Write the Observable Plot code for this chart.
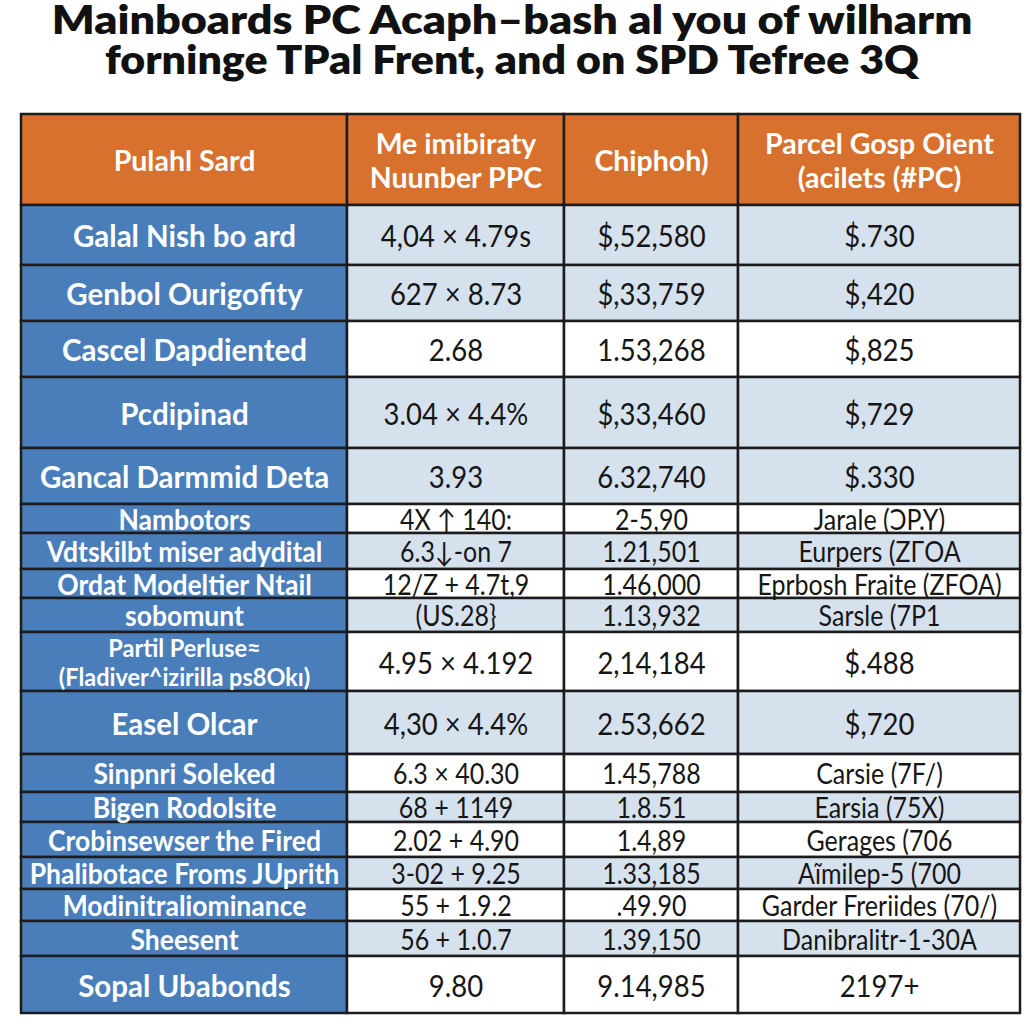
<!DOCTYPE html>
<html><head><meta charset="utf-8">
<script src="https://cdn.jsdelivr.net/npm/d3@7"></script>
<script src="https://cdn.jsdelivr.net/npm/@observablehq/plot@0.6"></script>
<style>
body{margin:0;background:#fff;width:1024px;overflow:hidden;}
#title{height:100px;box-sizing:border-box;padding-top:0px;font-family:Lato,"Open Sans",sans-serif;font-weight:800;font-size:39px;line-height:40px;text-align:center;color:#111;}
#title div{transform:scaleX(1.1);transform-origin:50% 50%;}
#title div.l1{transform:scaleX(1.15);margin-top:-1px;}
#chart svg{display:block;}
</style></head><body>
<div id="title"><div class="l1">Mainboards PC Acaph–bash al you of wilharm</div><div>forninge TPal Frent, and on SPD Tefree 3Q</div></div>
<div id="chart"></div>
<script>
// ---- data ----
const headers = ["Pulahl Sard", "Me imibiraty\nNuunber PPC", "Chiphoh)", "Parcel Gosp Oient\n(acilets (#PC)"];
const boards = ["Galal Nish bo ard", "Genbol Ourigofity", "Cascel Dapdiented", "Pcdipinad", "Gancal Darmmid Deta",
  "Nambotors", "Vdtskilbt miser adydital", "Ordat Modeltier Ntail", "sobomunt",
  "Partil Perluse\u2248\n(Fladiver^izirilla ps8Okı)", "Easel Olcar", "Sinpnri Soleked", "Bigen Rodolsite",
  "Crobinsewser the Fired", "Phalibotace Froms JUprith", "Modinitraliominance", "Sheesent", "Sopal Ubabonds"];
const ratings = ["4,04 × 4.79s", "627 × 8.73", "2.68", "3.04 × 4.4%", "3.93", "4X ↑ 140:", "6.3↓-on 7", "12/Z + 4.7t,9",
  "(US.28}", "4.95 × 4.192", "4,30 × 4.4%", "6.3 × 40.30", "68 + 1149", "2.02 + 4.90", "3-02 + 9.25", "55 + 1.9.2", "56 + 1.0.7", "9.80"];
const prices = ["$,52,580", "$,33,759", "1.53,268", "$,33,460", "6.32,740", "2-5,90", "1.21,501", "1.46,000", "1.13,932",
  "2,14,184", "2.53,662", "1.45,788", "1.8.51", "1.4,89", "1.33,185", ".49.90", "1.39,150", "9.14,985"];
const parcels = ["$.730", "$,420", "$,825", "$,729", "$.330", "Jarale (ƆP.Y)", "Eurpers (ZΓOA", "Eprbosh Fraite (ZFOA)", "Sarsle (7P1",
  "$.488", "$,720", "Carsie (7F/)", "Earsia (75X)", "Gerages (706", "Aĩmilep-5 (700", "Garder Freriides (70/)", "Danibralitr-1-30A", "2197+"];

// ---- layout ----
const colWidths = [326, 217, 174, 282];
const headerHeight = 91;
const rowHeights = [60, 56, 56, 71, 56, 29, 36, 29, 34, 59, 63, 38, 30, 35, 32, 32, 35, 57];
const shaded = [1,1,0,1,1,0,1,0,1,0,1,0,1,0,1,0,1,0];
const ORANGE = "#d8712e", BLUE = "#4a7ebb", LIGHT = "#d6e1ee", WHITE = "#ffffff", LINE = "#1c1c1f";

const xE = Array.from(d3.cumsum([0, ...colWidths]));
const yE = Array.from(d3.cumsum([0, headerHeight, ...rowHeights]));
const cols = [boards, ratings, prices, parcels];

const cells = [];
headers.forEach((h, c) => cells.push({x1: xE[c], x2: xE[c+1], y1: yE[0], y2: yE[1], text: h, fill: ORANGE,
  color: "#fff", group: "head", size: 28.5}));
rowHeights.forEach((rh, r) => {
  const tall = rh >= 50;
  cols.forEach((arr, c) => {
    const label = c === 0;
    let size = label ? (tall ? 29.5 : 26.5) : (tall ? 27.5 : 25);
    if (label && arr[r].includes("\n")) size = 23.5;
    cells.push({x1: xE[c], x2: xE[c+1], y1: yE[r+1], y2: yE[r+2], text: arr[r],
      fill: label ? BLUE : (shaded[r] ? LIGHT : WHITE), color: label ? "#fff" : "#161616",
      group: label ? "label" : "data", size});
  });
});

const txt = (g, weight) => Plot.text(cells.filter(d => d.group === g), {
  x: d => (d.x1 + d.x2) / 2, y: d => (d.y1 + d.y2) / 2, text: "text", fill: "color",
  fontSize: "size", fontWeight: weight, fontFamily: "Lato, 'Open Sans', sans-serif", lineHeight: 1.2
});

const svg = Plot.plot({
  width: 1024, height: 924, margin: 0,
  x: {domain: [0, xE[xE.length-1]], range: [21, 1020], axis: null},
  y: {domain: [0, yE[yE.length-1]], range: [15, 914], axis: null},
  color: {type: "identity"},
  marks: [
    Plot.rect(cells, {x1: "x1", x2: "x2", y1: "y1", y2: "y2", fill: "fill", stroke: LINE, strokeWidth: 2.5}),
    txt("head", 700), txt("label", 700), txt("data", 400)
  ]
});

// slight vertical stretch of the glyphs, as in the reference
const stretch = [1.0, 1.05, 1.12];
svg.querySelectorAll('g[aria-label="text"]').forEach((g, i) => {
  const s = stretch[i] || 1;
  g.querySelectorAll("text").forEach(t => {
    const tr = t.getAttribute("transform");
    if (tr) t.setAttribute("transform", tr + ` scale(1,${s})`);
    else {
      const x = +t.getAttribute("x") || 0, y = +t.getAttribute("y") || 0;
      t.setAttribute("transform", `translate(${x},${y}) scale(1,${s}) translate(${-x},${-y})`);
    }
  });
});
document.getElementById("chart").append(svg);
</script>
</body></html>
